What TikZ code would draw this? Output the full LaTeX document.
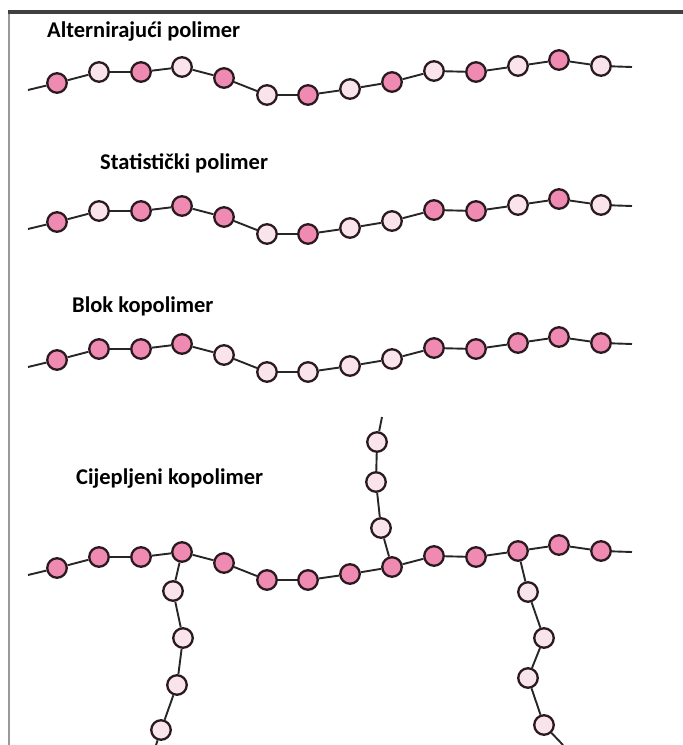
\documentclass[tikz,border=0pt]{standalone}
\usepackage{fontspec}
\setmainfont{Carlito}
\usetikzlibrary{positioning}
\definecolor{monoA}{HTML}{EF8AB3}
\definecolor{monoB}{HTML}{FAE4EC}
\definecolor{rim}{HTML}{2A1A1F}
% x and y of the beads of one chain (top chain, in px)
\newcommand{\chainx}{{57,99,141,182,224,267,308,350,392,434,476,518,559,601}}
\newcommand{\chainy}{{83,72,72,67,78,95,95,89,82,71,72,66,60,66}}
\tikzset{
		bead/.style={
			circle,
			draw=rim,
			line width=2.3pt,
			minimum size=19.5pt,
			inner sep=0pt
		},
		beadA/.style={bead, fill=monoA},
		beadB/.style={bead, fill=monoB},
		bond/.style={line width=1.9pt, draw=black!85},
		title/.style={
			font=\bfseries\fontsize{22.5}{26}\selectfont,
			anchor=west,
			inner sep=0pt
		}
	}
\begin{document}
\begin{tikzpicture}[x=1pt, y=-1pt]
		\useasboundingbox (0,0) rectangle (683,745);
		%frame:
		\draw[black!40, line width=2.6pt] (9,13) -- (9,745);
		\draw[black!75, line width=3.2pt] (8,12) -- (683,12);
		%titles:
		\node[title] (tA) at (47,32) {Alternirajući polimer};
		\node[title] (tS) at (100,163) {Statistički polimer};
		\node[title] (tB) at (72,306) {Blok kopolimer};
		\node[title] (tG) at (76,479) {Cijepljeni kopolimer};
		%chains:
		\foreach \c/\dy/\seq in {a/0/{A,B,A,B,A,B,A,B,A,B,A,B,A,B},
				s/139/{A,B,A,A,A,B,A,B,B,A,A,B,A,B},
				b/277/{A,A,A,A,B,B,B,B,B,A,A,A,A,A},
				g/485/{A,A,A,A,A,A,A,A,A,A,A,A,A,A}}{
			\foreach \k [count=\i] in \seq {
				\pgfmathsetmacro\bx{\chainx[\i-1]}
				\pgfmathsetmacro\by{\chainy[\i-1]+\dy}
				\node[bead\k] (\c\i) at (\bx,\by) {};
			}
			\coordinate (\c0) at (28,90+\dy);
			\coordinate (\c15) at (632,67+\dy);
			\foreach \i [evaluate=\i as \j using int(\i+1)] in {0,...,14}
				\draw[bond] (\c\i) -- (\c\j);
		}
		%side chains:
		\foreach \n/\x/\y in {1/381/528, 2/376/482, 3/377/442}
			\node[beadB] (u\n) at (\x,\y) {};
		\foreach \n/\x/\y in {1/173/591, 2/183/638, 3/177/685, 4/161/730}
			\node[beadB] (l\n) at (\x,\y) {};
		\foreach \n/\x/\y in {1/528/592, 2/544/638, 3/528/678, 4/544/725}
			\node[beadB] (r\n) at (\x,\y) {};
		\coordinate (u4) at (382,417);
		\coordinate (l5) at (155,748);
		\coordinate (r5) at (563,745);
		\draw[bond] (g9) -- (u1);
		\draw[bond] (g4) -- (l1);
		\draw[bond] (g12) -- (r1);
		\foreach \i/\j in {1/2, 2/3, 3/4}
			\draw[bond] (u\i) -- (u\j);
		\foreach \i/\j in {1/2, 2/3, 3/4, 4/5}{
			\draw[bond] (l\i) -- (l\j);
			\draw[bond] (r\i) -- (r\j);
		}
	\end{tikzpicture}
\end{document}
